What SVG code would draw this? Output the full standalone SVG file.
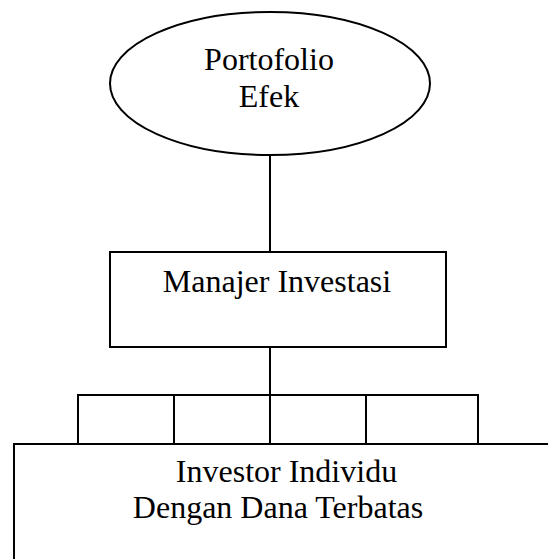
<svg xmlns="http://www.w3.org/2000/svg" width="548" height="559" viewBox="0 0 548 559">
<style>
.shape{fill:#fff;stroke:#000;stroke-width:2}
.conn line{stroke:#000;stroke-width:2}
text{font-family:"Liberation Serif","Times New Roman",serif;font-size:32px;fill:#000;text-anchor:middle}
</style>
<rect width="548" height="559" fill="#fff"/>
<g id="connectors" class="conn">
<line x1="270" y1="155" x2="270" y2="252"/>
<line x1="270" y1="347" x2="270" y2="395"/>
<line x1="77" y1="395" x2="479" y2="395"/>
<line x1="78" y1="395" x2="78" y2="444"/>
<line x1="174" y1="395" x2="174" y2="444"/>
<line x1="270" y1="395" x2="270" y2="444"/>
<line x1="366" y1="395" x2="366" y2="444"/>
<line x1="478" y1="395" x2="478" y2="444"/>
</g>
<g id="portofolio">
<ellipse class="shape" cx="270" cy="83.5" rx="160" ry="71.5"/>
<text x="269" y="70">Portofolio</text>
<text x="269" y="106.5">Efek</text>
</g>
<g id="manajer">
<rect class="shape" x="110" y="252" width="336" height="95"/>
<text x="277" y="291.5">Manajer Investasi</text>
</g>
<g id="investor">
<rect class="shape" x="14" y="444" width="600" height="200"/>
<text x="286.5" y="482">Investor Individu</text>
<text x="278" y="518">Dengan Dana Terbatas</text>
</g>
</svg>
